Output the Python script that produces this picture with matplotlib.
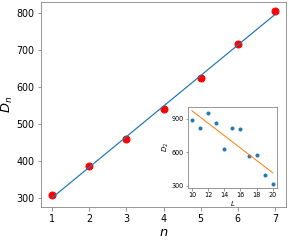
import numpy as np
import matplotlib.pyplot as plt

# main data
n = [1, 2, 3, 4, 5, 6, 7]
Dn = [309, 387, 461, 540, 625, 716, 805]

# inset data
L = [10, 11, 12, 13, 14, 15, 16, 17, 18, 19, 20]
D2 = [893, 815, 955, 861, 629, 815, 810, 564, 574, 397, 313]

fig = plt.figure(figsize=(289/72, 240/72), dpi=72)
ax = fig.add_axes([0.142, 0.1375, 0.848, 0.854])

# linear fit of main data
p = np.polyfit(n, Dn, 1)
ax.plot(n, Dn, 'o', color='red', markersize=7)
ax.plot(n, np.polyval(p, n), color='tab:blue', lw=1.2)

ax.set_xlabel('$n$', fontsize=13, labelpad=2)
ax.set_ylabel('$D_n$', fontsize=13, labelpad=1)
ax.tick_params(labelsize=9.5, color='gray')
for s in ax.spines.values():
    s.set_color('gray')
ax.set_yticks([300, 400, 500, 600, 700, 800])

# inset
ax2 = fig.add_axes([0.650, 0.217, 0.308, 0.337])
q = np.polyfit(L, D2, 1)
ax2.plot(L, D2, 'o', color='tab:blue', markersize=3)
ax2.plot(L, np.polyval(q, L), color='tab:orange', lw=1)
ax2.set_xticks([10, 12, 14, 16, 18, 20])
ax2.set_yticks([300, 600, 900])
ax2.set_xlabel('$L$', fontsize=7, labelpad=1)
ax2.set_ylabel('$D_2$', fontsize=7, labelpad=1)
ax2.tick_params(labelsize=6.5, color='gray', length=2.5, pad=1.5)
for s in ax2.spines.values():
    s.set_color('gray')

fig.savefig('out.png', dpi=72)
